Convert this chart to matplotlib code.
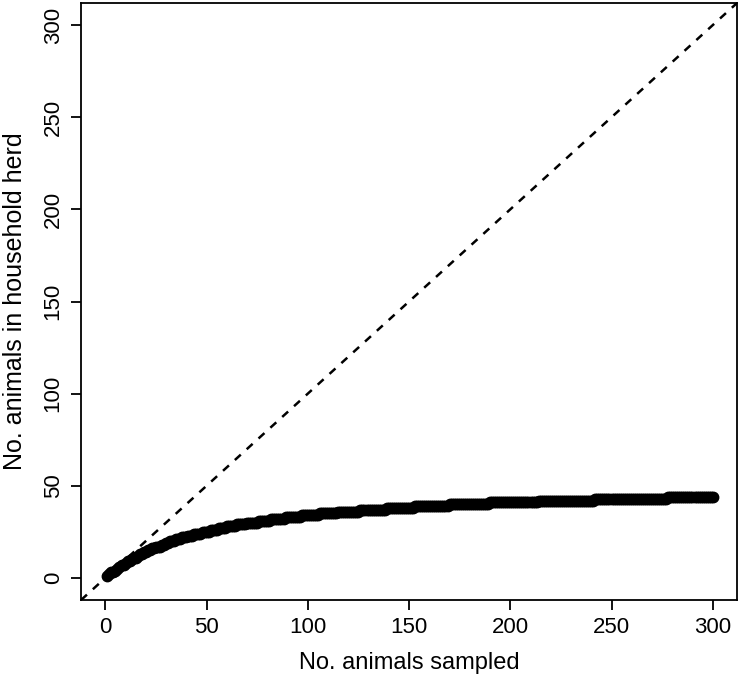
import numpy as np
import matplotlib
matplotlib.use("Agg")
import matplotlib.pyplot as plt

plt.rcParams['font.family'] = ['Liberation Sans', 'DejaVu Sans']

# herd size where each required sample size starts
step_start = [1, 2, 3, 5, 6, 7, 8, 10, 11, 13, 14, 16, 17, 19, 21, 23, 25, 28, 30, 32,
              35, 38, 41, 44, 48, 52, 56, 60, 65, 70, 76, 82, 89, 97, 106, 115, 126,
              139, 153, 170, 190, 214, 242, 278]
step_value = list(range(1, 45))
x_max = 300

x = np.arange(1, x_max + 1)
y = np.array(step_value)[np.searchsorted(step_start, x, side='right') - 1]

fig = plt.figure(figsize=(7.4, 6.82), dpi=100)
ax = fig.add_axes([0.1095, 0.1202, 0.8865, 0.8754])

ax.axline((0, 0), slope=1, color='black', lw=1.8, ls=(0, (3.2, 3.2)))
ax.plot(x, y, 'o', color='black', ms=7.5, mec='black')

ax.set_xlim(-12, 312)
ax.set_ylim(-12, 312)
ax.set_xticks(np.arange(0, 301, 50))
ax.set_yticks(np.arange(0, 301, 50))
ax.tick_params(direction='out', length=7.5, width=1.3, labelsize=16, pad=5)
for lab in ax.get_yticklabels():
    lab.set_rotation(90)
    lab.set_va('center')
for s in ax.spines.values():
    s.set_linewidth(1.3)

ax.set_xlabel('No. animals sampled', fontsize=17, labelpad=10)
ax.set_ylabel('No. animals in household herd', fontsize=18, labelpad=11)

fig.savefig('out.png', dpi=100)
